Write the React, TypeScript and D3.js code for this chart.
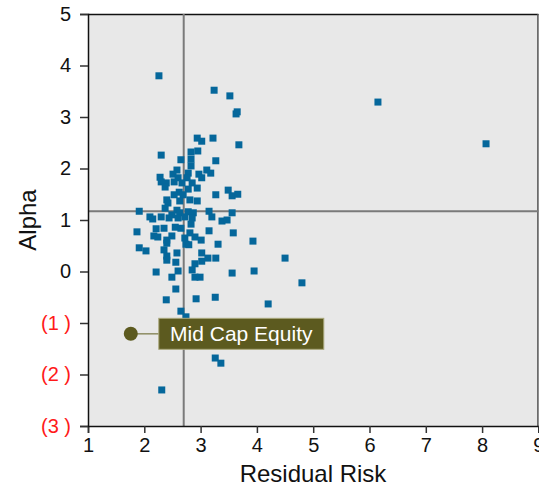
import { useEffect, useRef } from "react";
import * as d3 from "d3";

// residual risk (x) and alpha (y) for each fund
const riskValues = [
  2.26, 3.24, 3.52, 3.63, 3.65, 6.15, 8.07, 3.68, 2.94, 3.02, 3.22, 2.3, 2.65, 2.83, 2.95,
  2.83, 3.27, 2.83, 2.58, 2.51, 2.28, 2.3, 2.97, 3.11, 3.18, 3.02, 2.78, 2.76, 2.6, 2.53,
  2.39, 2.37, 2.67, 2.85, 2.94, 2.78, 2.62, 2.53, 2.69, 2.4, 2.63, 2.81, 2.94, 2.42, 3.27,
  3.49, 3.56, 3.66, 1.91, 2.37, 2.58, 2.78, 2.87, 2.63, 2.49, 3.15, 3.56, 2.1, 2.15, 2.3,
  2.44, 2.6, 2.72, 2.85, 3.2, 3.38, 3.47, 1.87, 2.21, 2.35, 2.55, 2.65, 2.83, 3.15, 3.58,
  2.17, 2.24, 2.4, 2.4, 2.49, 2.72, 2.81, 2.9, 3.01, 2.74, 2.79, 3.31, 3.93, 1.91, 2.03,
  2.35, 2.4, 2.4, 2.58, 2.56, 3.02, 3.02, 3.13, 3.27, 2.9, 2.85, 2.21, 2.6, 2.49, 2.9,
  2.99, 3.56, 3.95, 2.56, 2.39, 2.92, 3.26, 4.2, 4.5, 4.8, 2.65, 2.74, 3.26, 3.36, 2.31,
];
const alphaValues = [
  3.8, 3.52, 3.41, 3.06, 3.1, 3.29, 2.48, 2.46, 2.59, 2.53, 2.59, 2.26, 2.17, 2.32, 2.34,
  2.18, 2.15, 2.05, 1.97, 1.89, 1.83, 1.74, 1.89, 1.97, 1.91, 1.82, 1.91, 1.82, 1.82, 1.74,
  1.72, 1.64, 1.72, 1.72, 1.62, 1.6, 1.54, 1.49, 1.49, 1.39, 1.37, 1.39, 1.37, 1.33, 1.49,
  1.58, 1.47, 1.5, 1.17, 1.23, 1.19, 1.16, 1.14, 1.14, 1.1, 1.17, 1.14, 1.06, 1.02, 1.06,
  1.04, 1.04, 1.06, 1.04, 1.06, 0.98, 1.0, 0.77, 0.83, 0.84, 0.86, 0.84, 0.92, 0.79, 0.75,
  0.69, 0.67, 0.61, 0.55, 0.69, 0.65, 0.75, 0.67, 0.61, 0.53, 0.52, 0.53, 0.59, 0.46, 0.4,
  0.42, 0.3, 0.22, 0.36, 0.18, 0.36, 0.2, 0.26, 0.26, 0.15, 0.03, -0.01, 0.01, -0.11, -0.11,
  -0.11, -0.03, 0.01, -0.34, -0.55, -0.53, -0.5, -0.63, 0.26, -0.22, -0.77, -0.88, -1.68, -1.78, -2.3,
];

// averages drawn as the cross-hair lines
const meanRisk = 2.7;
const meanAlpha = 1.17;

// highlighted fund
const highlightName = "Mid Cap Equity";
const highlightRisk = 1.76;
const highlightAlpha = -1.21;

const xTicks = [1, 2, 3, 4, 5, 6, 7, 8, 9];
const yTicks = [5, 4, 3, 2, 1, 0, -1, -2, -3];

const W = 539;
const H = 489;
const FONT = "'Liberation Sans', Arial, sans-serif";

export default function App() {
  const ref = useRef<SVGSVGElement | null>(null);

  useEffect(() => {
    if (!ref.current) return;
    const svg = d3.select(ref.current);
    svg.selectAll("*").remove();

    const x = d3.scaleLinear().domain([1, 9]).range([88, 538.4]);
    const y = d3.scaleLinear().domain([-3, 5]).range([426, 14]);

    // plot background + frame
    svg
      .append("rect")
      .attr("x", x(1))
      .attr("y", y(5))
      .attr("width", x(9) - x(1))
      .attr("height", y(-3) - y(5))
      .attr("fill", "#e8e8e8");
    svg
      .append("line")
      .attr("x1", x(1))
      .attr("x2", x(9))
      .attr("y1", y(5) + 0.5)
      .attr("y2", y(5) + 0.5)
      .attr("stroke", "#111")
      .attr("stroke-width", 1.5);
    svg
      .append("line")
      .attr("x1", x(9) - 0.5)
      .attr("x2", x(9) - 0.5)
      .attr("y1", y(5))
      .attr("y2", y(-3))
      .attr("stroke", "#555")
      .attr("stroke-width", 1.5);

    // reference lines
    svg
      .append("line")
      .attr("x1", x(meanRisk))
      .attr("x2", x(meanRisk))
      .attr("y1", y(5))
      .attr("y2", y(-3))
      .attr("stroke", "#7a7a7a")
      .attr("stroke-width", 2);
    svg
      .append("line")
      .attr("x1", x(1))
      .attr("x2", x(9))
      .attr("y1", y(meanAlpha))
      .attr("y2", y(meanAlpha))
      .attr("stroke", "#7a7a7a")
      .attr("stroke-width", 2);

    // axes
    const xAxis = svg
      .append("g")
      .attr("transform", `translate(0,${y(-3)})`)
      .call(d3.axisBottom(x).tickValues(xTicks).tickSize(7).tickPadding(5).tickFormat(d3.format("d")));
    xAxis.select(".domain").attr("stroke", "#111").attr("stroke-width", 1.5);
    xAxis.selectAll(".tick line").attr("stroke", "#333").attr("stroke-width", 1.5);
    xAxis
      .selectAll(".tick text")
      .attr("font-family", FONT)
      .attr("font-size", 20)
      .attr("fill", "#111");

    const yAxis = svg
      .append("g")
      .attr("transform", `translate(${x(1)},0)`)
      .call(
        d3
          .axisLeft(y)
          .tickValues(yTicks)
          .tickSize(8)
          .tickPadding(9)
          .tickFormat((d) => {
            const v = d as number;
            return v < 0 ? `(${Math.abs(v)} )` : `${v}`;
          })
      );
    yAxis.select(".domain").attr("stroke", "#111").attr("stroke-width", 1.5);
    yAxis.selectAll(".tick line").attr("stroke", "#333").attr("stroke-width", 1.5);
    yAxis
      .selectAll<SVGTextElement, number>(".tick text")
      .attr("font-family", FONT)
      .attr("font-size", 20)
      .attr("fill", (d) => (d < 0 ? "#ff1a1a" : "#111"));

    // points
    const pts = riskValues.map((r, i) => ({ r, a: alphaValues[i] }));
    const s = 7;
    svg
      .append("g")
      .selectAll("rect")
      .data(pts)
      .join("rect")
      .attr("x", (d) => x(d.r) - s / 2)
      .attr("y", (d) => y(d.a) - s / 2)
      .attr("width", s)
      .attr("height", s)
      .attr("fill", "#05679b");

    // highlighted fund with callout
    const hx = x(highlightRisk);
    const hy = y(highlightAlpha);
    const boxX = hx + 28;
    const boxW = 165;
    const boxH = 31;
    svg
      .append("line")
      .attr("x1", hx)
      .attr("x2", boxX)
      .attr("y1", hy)
      .attr("y2", hy)
      .attr("stroke", "#8d8c62")
      .attr("stroke-width", 1.5);
    svg
      .append("circle")
      .attr("cx", hx)
      .attr("cy", hy)
      .attr("r", 7)
      .attr("fill", "#5c5a1f");
    svg
      .append("rect")
      .attr("x", boxX)
      .attr("y", hy - boxH / 2)
      .attr("width", boxW)
      .attr("height", boxH)
      .attr("fill", "#5c5a1f")
      .attr("stroke", "#aaa87c")
      .attr("stroke-width", 1);
    svg
      .append("text")
      .attr("x", boxX + boxW / 2)
      .attr("y", hy + 7.5)
      .attr("text-anchor", "middle")
      .attr("font-family", FONT)
      .attr("font-size", 21)
      .attr("fill", "#fff")
      .text(highlightName);

    // axis titles
    svg
      .append("text")
      .attr("x", 313)
      .attr("y", 482)
      .attr("text-anchor", "middle")
      .attr("font-family", FONT)
      .attr("font-size", 24)
      .attr("fill", "#111")
      .text("Residual Risk");
    svg
      .append("text")
      .attr("transform", `translate(36,${(y(5) + y(-3)) / 2}) rotate(-90)`)
      .attr("text-anchor", "middle")
      .attr("font-family", FONT)
      .attr("font-size", 24)
      .attr("fill", "#111")
      .text("Alpha");
  }, []);

  return (
    <svg
      ref={ref}
      width={W}
      height={H}
      style={{ position: "absolute", left: 0, top: 0, display: "block", background: "#fff" }}
    />
  );
}
